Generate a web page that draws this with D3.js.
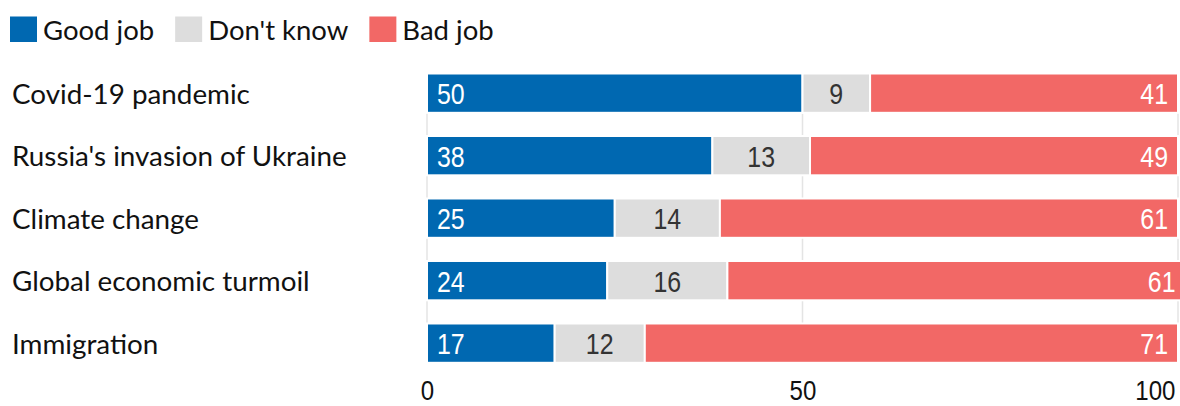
<!DOCTYPE html>
<html>
<head>
<meta charset="utf-8">
<script src="https://cdn.jsdelivr.net/npm/d3@7"></script>
<style>
  html, body { margin: 0; padding: 0; background: #fff; }
  svg { display: block; }
  .lbl { font-family: Lato, "Noto Sans", sans-serif; fill: #111; }
  .num { font-family: "Liberation Sans", Arial, sans-serif; }
</style>
</head>
<body>
<svg id="chart" width="1180" height="406"></svg>
<script>
// Survey: how well is the government handling each issue (%)
const categories = [
  "Covid-19 pandemic",
  "Russia's invasion of Ukraine",
  "Climate change",
  "Global economic turmoil",
  "Immigration"
];
const goodJob  = [50, 38, 25, 24, 17];
const dontKnow = [9, 13, 14, 16, 12];
const badJob   = [41, 49, 61, 61, 71];

const seriesNames  = ["Good job", "Don't know", "Bad job"];
const seriesColors = ["#0068b1", "#dddddd", "#f26866"];
const tickValues   = [0, 50, 100];

const svg = d3.select("#chart");

const x = d3.scaleLinear().domain([0, 100]).range([427, 1178]);
const y = d3.scaleBand().domain(categories).range([73.5, 362.8]).paddingInner(0.371).paddingOuter(0);
const color = d3.scaleOrdinal().domain(seriesNames).range(seriesColors);

// Narrow figures for numbers
const NUM_SQUEEZE = 0.86;

// Legend
const legend = svg.append("g");
let lx = 10;
seriesNames.forEach(name => {
  legend.append("rect")
    .attr("x", lx).attr("y", 16.5)
    .attr("width", 27).attr("height", 25.5)
    .attr("fill", color(name));
  const t = legend.append("text")
    .attr("class", "lbl")
    .attr("x", lx + 33).attr("y", 39.5)
    .attr("font-size", 27.5)
    .text(name);
  lx += 33 + t.node().getComputedTextLength() + 21;
});

// Gridlines
svg.append("g").selectAll("line")
  .data(tickValues)
  .join("line")
  .attr("x1", d => x(d)).attr("x2", d => x(d))
  .attr("y1", y.range()[0]).attr("y2", y.range()[1])
  .attr("stroke", "#e4e4e4")
  .attr("stroke-width", 1.5);

// Category labels
svg.append("g").selectAll("text")
  .data(categories)
  .join("text")
  .attr("class", "lbl")
  .attr("x", 12)
  .attr("y", d => y(d) + y.bandwidth() / 2 + 10.5)
  .attr("font-size", 27.8)
  .text(d => d);

// Stacked bars
const rows = categories.map((c, i) => ({
  category: c,
  "Good job": goodJob[i],
  "Don't know": dontKnow[i],
  "Bad job": badJob[i]
}));
const stacked = d3.stack().keys(seriesNames)(rows);

const layers = svg.append("g").selectAll("g")
  .data(stacked)
  .join("g")
  .attr("fill", d => color(d.key));

layers.selectAll("rect")
  .data(d => d)
  .join("rect")
  .attr("x", d => x(d[0]))
  .attr("y", d => y(d.data.category))
  .attr("width", d => x(d[1]) - x(d[0]))
  .attr("height", y.bandwidth())
  .attr("stroke", "#fff")
  .attr("stroke-width", 2);

// Value labels
layers.each(function(layer) {
  const key = layer.key;
  const px = d => key === "Good job" ? x(d[0]) + 10
                : key === "Bad job" ? x(d[1]) - 10
                : (x(d[0]) + x(d[1])) / 2;
  d3.select(this).selectAll("text")
    .data(layer)
    .join("text")
    .attr("class", "num")
    .attr("font-size", 29)
    .attr("fill", key === "Don't know" ? "#333" : "#fff")
    .attr("text-anchor", key === "Good job" ? "start" : key === "Bad job" ? "end" : "middle")
    .attr("transform", d => `translate(${px(d)},${y(d.data.category) + y.bandwidth() / 2 + 11}) scale(${NUM_SQUEEZE},1)`)
    .text(d => d.data[key]);
});

// Bottom axis
const axis = svg.append("g")
  .attr("transform", `translate(0,${y.range()[1]})`)
  .call(d3.axisBottom(x).tickValues(tickValues).tickSize(0).tickPadding(0));
axis.select(".domain").remove();
axis.selectAll("text")
  .attr("class", "num")
  .attr("font-size", 28)
  .attr("fill", "#111")
  .attr("dy", null)
  .attr("y", null)
  .attr("text-anchor", d => d === 100 ? "end" : "middle")
  .attr("transform", d => `translate(${d === 100 ? -3 : 0},36.8) scale(0.86,1)`);
</script>
</body>
</html>
